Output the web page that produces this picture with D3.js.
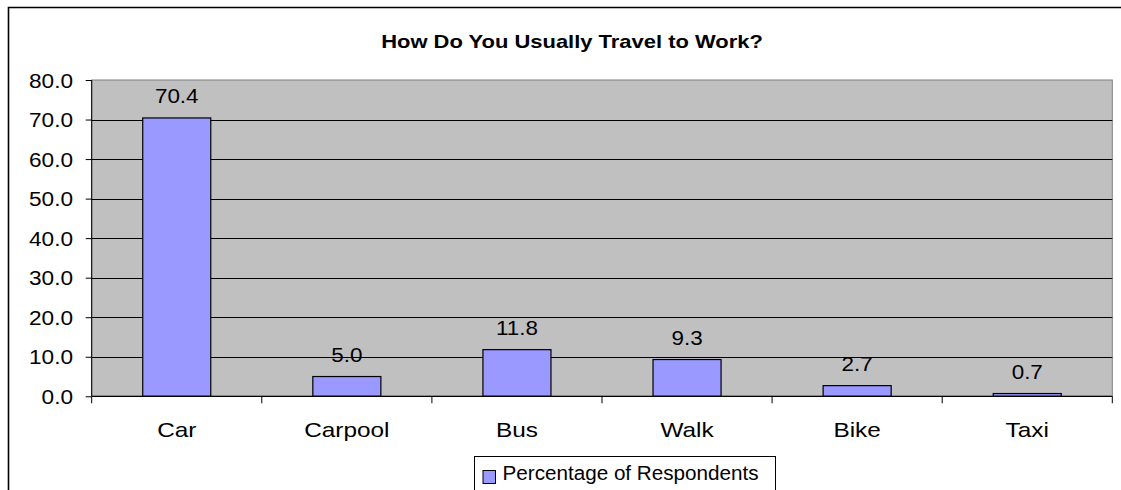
<!DOCTYPE html>
<html><head><meta charset="utf-8">
<script src="https://cdn.jsdelivr.net/npm/d3@7"></script>
<style>
html,body{margin:0;padding:0;background:#fff;overflow:hidden;}
svg{display:block;font-family:"Liberation Sans",Arial,sans-serif;}
</style></head>
<body>
<svg id="c" width="1121" height="490"></svg>
<script>
const categories = ["Car","Carpool","Bus","Walk","Bike","Taxi"];
const values = [70.4, 5.0, 11.8, 9.3, 2.7, 0.7];
const yTicks = [0,10,20,30,40,50,60,70,80];
const seriesName = "Percentage of Respondents";
const title = "How Do You Usually Travel to Work?";

const svg = d3.select("#c");
const L = 91.7, R = 1112.3, T = 80, B = 396.3;

const x = d3.scaleBand().domain(categories).range([L, R]).paddingInner(0.6).paddingOuter(0.3);
const xb = d3.scaleBand().domain(categories).range([L, R]);
const y = d3.scaleLinear().domain([0, 80]).range([B, T]);

// outer border (left and top edges visible; the rest is cropped)
svg.append("path").attr("d", "M8.5,490V7.5H1121")
  .attr("fill", "none").attr("stroke", "#000").attr("stroke-width", 1.6);

// title
svg.append("text").attr("transform", "translate(572,48) scale(1.22,1)")
  .attr("text-anchor", "middle").attr("font-weight", "bold").attr("font-size", 18)
  .attr("fill", "#000").text(title);

// plot area
svg.append("rect").attr("x", L).attr("y", T).attr("width", R - L).attr("height", B - T)
  .attr("fill", "#C0C0C0").attr("stroke", "#808080").attr("stroke-width", 1);

// gridlines
svg.append("g").selectAll("line").data(yTicks.filter(d => d > 0 && d < 80)).join("line")
  .attr("x1", L).attr("x2", R).attr("y1", d => Math.round(y(d)) + 0.5).attr("y2", d => Math.round(y(d)) + 0.5)
  .attr("stroke", "#000").attr("stroke-width", 1);

// bars
svg.append("g").selectAll("rect").data(values).join("rect")
  .attr("x", (d, i) => x(categories[i]))
  .attr("y", d => y(d))
  .attr("width", x.bandwidth())
  .attr("height", d => y(0) - y(d))
  .attr("fill", "#9999FF").attr("stroke", "#000").attr("stroke-width", 1.2);

// y axis
const yAxis = svg.append("g").attr("transform", `translate(${L},0)`)
  .call(d3.axisLeft(y).tickValues(yTicks).tickSize(6).tickPadding(12).tickFormat(d3.format(".1f")));
yAxis.select(".domain").attr("stroke", "#000").attr("d", `M0,${T}V${B}`);
yAxis.selectAll(".tick line").attr("stroke", "#000");
yAxis.selectAll(".tick text").attr("font-size", 19.5).attr("fill", "#000")
  .attr("font-family", "Liberation Sans, Arial, sans-serif")
  .each(function() {
    d3.select(this).attr("transform", "scale(1.16,1)").attr("x", -18.7 / 1.16).attr("dy", "0.36em");
  });

// x axis
const xAxis = svg.append("g").attr("transform", `translate(0,${B})`);
xAxis.append("line").attr("x1", L).attr("x2", R).attr("y1", 0).attr("y2", 0).attr("stroke", "#000").attr("stroke-width", 1.2);
const bounds = categories.map(c => xb(c)).concat([R]);
xAxis.selectAll("line.tk").data(bounds).join("line").attr("class", "tk")
  .attr("x1", d => d).attr("x2", d => d).attr("y1", 0).attr("y2", 7).attr("stroke", "#000");
xAxis.selectAll("text").data(categories).join("text")
  .attr("transform", d => `translate(${xb(d) + xb.bandwidth() / 2},40.5) scale(1.16,1)`)
  .attr("text-anchor", "middle").attr("font-size", 21).attr("fill", "#000").text(d => d);

// data labels
svg.append("g").selectAll("text").data(values).join("text")
  .attr("transform", (d, i) => `translate(${x(categories[i]) + x.bandwidth() / 2},${y(d) - 15}) scale(1.15,1)`)
  .attr("text-anchor", "middle").attr("font-size", 19.5).attr("fill", "#000")
  .text(d => d3.format(".1f")(d));

// legend
const lg = svg.append("g");
lg.append("rect").attr("x", 474.5).attr("y", 456.5).attr("width", 301).attr("height", 60)
  .attr("fill", "#fff").attr("stroke", "#000").attr("stroke-width", 1);
lg.append("rect").attr("x", 483).attr("y", 470.5).attr("width", 12.5).attr("height", 13)
  .attr("fill", "#9999FF").attr("stroke", "#000").attr("stroke-width", 1);
lg.append("text").attr("transform", "translate(502.5,479.5) scale(1.06,1)")
  .attr("font-size", 19.5).attr("fill", "#000").text(seriesName);
</script>
</body></html>
